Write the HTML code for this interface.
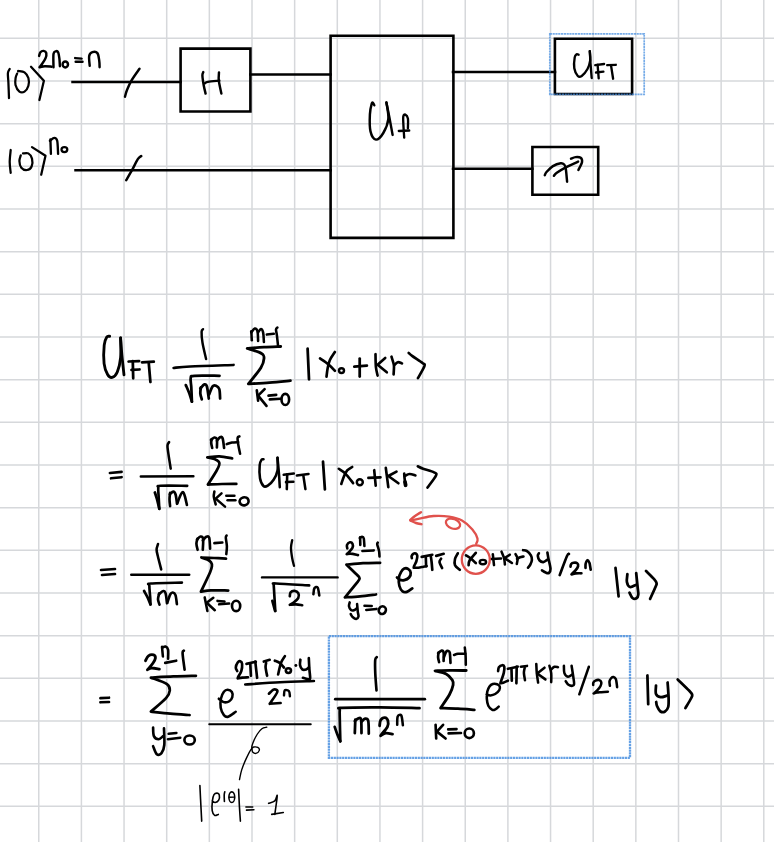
<!DOCTYPE html>
<html><head><meta charset="utf-8"><title>notes</title>
<style>
html,body{margin:0;padding:0;background:#fff;}
body{width:774px;height:842px;overflow:hidden;font-family:"Liberation Sans",sans-serif;}
svg{display:block;}
</style></head><body>
<svg width="774" height="842" viewBox="0 0 774 842">
<rect width="774" height="842" fill="#fff"/>
<g stroke="#d6d8db" stroke-width="1.5">
<line x1="38.75" y1="0" x2="38.75" y2="842"/>
<line x1="81.40" y1="0" x2="81.40" y2="842"/>
<line x1="124.05" y1="0" x2="124.05" y2="842"/>
<line x1="166.70" y1="0" x2="166.70" y2="842"/>
<line x1="209.35" y1="0" x2="209.35" y2="842"/>
<line x1="252.00" y1="0" x2="252.00" y2="842"/>
<line x1="294.65" y1="0" x2="294.65" y2="842"/>
<line x1="337.30" y1="0" x2="337.30" y2="842"/>
<line x1="379.95" y1="0" x2="379.95" y2="842"/>
<line x1="422.60" y1="0" x2="422.60" y2="842"/>
<line x1="465.25" y1="0" x2="465.25" y2="842"/>
<line x1="507.90" y1="0" x2="507.90" y2="842"/>
<line x1="550.55" y1="0" x2="550.55" y2="842"/>
<line x1="593.20" y1="0" x2="593.20" y2="842"/>
<line x1="635.85" y1="0" x2="635.85" y2="842"/>
<line x1="678.50" y1="0" x2="678.50" y2="842"/>
<line x1="721.15" y1="0" x2="721.15" y2="842"/>
<line x1="763.80" y1="0" x2="763.80" y2="842"/>
<line x1="0" y1="38.30" x2="774" y2="38.30"/>
<line x1="0" y1="80.97" x2="774" y2="80.97"/>
<line x1="0" y1="123.64" x2="774" y2="123.64"/>
<line x1="0" y1="166.31" x2="774" y2="166.31"/>
<line x1="0" y1="208.98" x2="774" y2="208.98"/>
<line x1="0" y1="251.65" x2="774" y2="251.65"/>
<line x1="0" y1="294.32" x2="774" y2="294.32"/>
<line x1="0" y1="336.99" x2="774" y2="336.99"/>
<line x1="0" y1="379.66" x2="774" y2="379.66"/>
<line x1="0" y1="422.33" x2="774" y2="422.33"/>
<line x1="0" y1="465.00" x2="774" y2="465.00"/>
<line x1="0" y1="507.67" x2="774" y2="507.67"/>
<line x1="0" y1="550.34" x2="774" y2="550.34"/>
<line x1="0" y1="593.01" x2="774" y2="593.01"/>
<line x1="0" y1="635.68" x2="774" y2="635.68"/>
<line x1="0" y1="678.35" x2="774" y2="678.35"/>
<line x1="0" y1="721.02" x2="774" y2="721.02"/>
<line x1="0" y1="763.69" x2="774" y2="763.69"/>
<line x1="0" y1="806.36" x2="774" y2="806.36"/>
</g>
<g fill="none" stroke-linecap="round" stroke-linejoin="round">
<path d="M9.70,69.00C9.40,69.67 8.12,70.73 7.90,73.00C7.68,75.27 8.22,78.42 8.40,82.60C8.58,86.78 8.90,95.52 9.00,98.10" stroke="#000000" stroke-width="2.25"/>
<path d="M17.10,73.60C16.85,74.33 15.87,76.10 15.60,78.00C15.33,79.90 14.87,82.73 15.50,85.00C16.13,87.27 17.90,90.50 19.40,91.60C20.90,92.70 23.00,92.57 24.50,91.60C26.00,90.63 27.75,88.07 28.40,85.80C29.05,83.53 29.05,80.25 28.40,78.00C27.75,75.75 26.12,73.47 24.50,72.30C22.88,71.13 19.77,71.17 18.70,71.00C17.63,70.83 18.20,71.25 18.10,71.30" stroke="#000000" stroke-width="2.25"/>
<path d="M31.00,66.80L43.90,80.70L39.40,100.00" stroke="#000000" stroke-width="2.25"/>
<path d="M39.10,55.90C39.32,55.28 39.65,53.03 40.40,52.20C41.15,51.37 42.62,50.75 43.60,50.90C44.58,51.05 46.00,51.82 46.30,53.10C46.60,54.38 46.23,56.63 45.40,58.60C44.57,60.57 42.28,63.47 41.30,64.90C40.32,66.33 39.80,66.82 39.50,67.20C40.40,67.03 42.87,66.28 44.90,66.20C46.93,66.12 50.57,66.62 51.70,66.70" stroke="#000000" stroke-width="2.45"/>
<path d="M53.50,67.20C53.50,65.00 53.12,56.65 53.50,54.00C53.88,51.35 55.03,51.60 55.80,51.30C56.57,51.00 57.50,50.98 58.10,52.20C58.70,53.42 59.10,56.27 59.40,58.60C59.70,60.93 59.82,64.93 59.90,66.20" stroke="#000000" stroke-width="2.45"/>
<ellipse cx="65.3" cy="64.4" rx="2.7" ry="3.0" transform="rotate(0 65.3 64.4)" stroke="#000000" stroke-width="2.45"/>
<path d="M75.20,58.10L81.60,58.60" stroke="#000000" stroke-width="2.45"/>
<path d="M75.70,61.70L82.50,61.70" stroke="#000000" stroke-width="2.45"/>
<path d="M89.70,65.80C89.62,64.15 88.75,58.17 89.20,55.90C89.65,53.63 91.03,52.67 92.40,52.20C93.77,51.73 96.27,51.73 97.40,53.10C98.53,54.47 98.83,58.05 99.20,60.40C99.57,62.75 99.53,66.07 99.60,67.20" stroke="#000000" stroke-width="2.45"/>
<path d="M72.5,82.0 L180.6,82.0" stroke="#000000" stroke-width="2.5" stroke-linejoin="miter" stroke-linecap="square"/>
<path d="M125.00,96.70C125.33,95.58 125.88,92.75 127.00,90.00C128.12,87.25 129.62,83.73 131.70,80.20C133.78,76.67 138.20,70.70 139.50,68.80" stroke="#000000" stroke-width="2.45"/>
<path d="M180.6,48.6 L250.4,48.6 L250.4,111.5 L180.6,111.5 L180.6,48.6" stroke="#000000" stroke-width="2.6" stroke-linejoin="miter" stroke-linecap="square"/>
<path d="M203.30,72.10C203.15,72.67 202.32,73.22 202.40,75.50C202.48,77.78 203.27,82.78 203.80,85.80C204.33,88.82 205.30,92.30 205.60,93.60" stroke="#000000" stroke-width="2.45"/>
<path d="M219.00,72.40C218.97,73.78 218.40,77.17 218.80,80.70C219.20,84.23 220.97,91.45 221.40,93.60" stroke="#000000" stroke-width="2.45"/>
<path d="M204.80,83.30C205.32,83.07 205.48,82.35 207.90,81.90C210.32,81.45 217.40,80.82 219.30,80.60" stroke="#000000" stroke-width="2.45"/>
<path d="M250.4,74.4 L330.6,74.4" stroke="#000000" stroke-width="2.5" stroke-linejoin="miter" stroke-linecap="square"/>
<path d="M10.70,150.00C10.53,152.02 9.70,158.30 9.70,162.10C9.70,165.90 10.53,171.02 10.70,172.80" stroke="#000000" stroke-width="2.25"/>
<path d="M20.80,155.30C20.57,156.25 19.32,158.93 19.40,161.00C19.48,163.07 20.03,166.20 21.30,167.70C22.57,169.20 25.28,170.20 27.00,170.00C28.72,169.80 30.77,168.40 31.60,166.50C32.43,164.60 32.55,160.78 32.00,158.60C31.45,156.42 29.80,154.27 28.30,153.40C26.80,152.53 23.88,153.40 23.00,153.40" stroke="#000000" stroke-width="2.25"/>
<path d="M32.00,147.10L45.50,155.80L41.20,174.70" stroke="#000000" stroke-width="2.25"/>
<path d="M50.40,139.40L50.90,153.90" stroke="#000000" stroke-width="2.35"/>
<path d="M49.90,140.80C50.63,140.32 53.08,137.90 54.30,137.90C55.52,137.90 56.57,138.13 57.20,140.80C57.83,143.47 57.95,151.72 58.10,153.90" stroke="#000000" stroke-width="2.35"/>
<ellipse cx="64.4" cy="149.5" rx="2.9" ry="2.5" transform="rotate(0 64.4 149.5)" stroke="#000000" stroke-width="2.25"/>
<path d="M75.5,170.3 L330.6,170.3" stroke="#000000" stroke-width="2.5" stroke-linejoin="miter" stroke-linecap="square"/>
<path d="M126.20,180.20C127.17,178.53 130.07,173.70 132.00,170.20C133.93,166.70 136.25,161.57 137.80,159.20C139.35,156.83 140.72,156.53 141.30,156.00" stroke="#000000" stroke-width="2.45"/>
<path d="M330.6,35.8 L453.4,35.8 L453.4,237.9 L330.6,237.9 L330.6,35.8" stroke="#000000" stroke-width="2.6" stroke-linejoin="miter" stroke-linecap="square"/>
<path d="M374.30,105.30C374.12,104.95 373.62,103.53 373.20,103.20C372.78,102.87 372.35,101.43 371.80,103.30C371.25,105.17 370.12,109.72 369.90,114.40C369.68,119.08 369.50,127.20 370.50,131.40C371.50,135.60 373.77,139.33 375.90,139.60C378.03,139.87 381.23,136.43 383.30,133.00C385.37,129.57 387.78,124.10 388.30,119.00C388.82,113.90 386.72,105.17 386.40,102.40" stroke="#000000" stroke-width="2.45"/>
<path d="M386.40,102.40C386.92,105.00 388.47,112.58 389.50,118.00C390.53,123.42 392.08,132.08 392.60,134.90" stroke="#000000" stroke-width="2.45"/>
<path d="M404.20,137.60C404.07,135.50 403.55,128.52 403.40,125.00C403.25,121.48 402.98,118.23 403.30,116.50C403.62,114.77 404.53,114.27 405.30,114.60C406.07,114.93 407.47,116.22 407.90,118.50C408.33,120.78 407.90,126.67 407.90,128.30" stroke="#000000" stroke-width="2.35"/>
<path d="M398.80,131.00L409.20,130.50" stroke="#000000" stroke-width="2.35"/>
<path d="M453.0,72.0 L555.0,72.0" stroke="#000000" stroke-width="2.5" stroke-linejoin="miter" stroke-linecap="square"/>
<path d="M453.0,168.8 L532.4,168.8" stroke="#000000" stroke-width="2.5" stroke-linejoin="miter" stroke-linecap="square"/>
<path d="M554.9,38.8 L632.1,38.8 L632.1,94.0 L554.9,94.0 L554.9,38.8" stroke="#000000" stroke-width="2.6" stroke-linejoin="miter" stroke-linecap="square"/>
<path d="M578.60,54.70C578.27,54.63 577.25,53.85 576.60,54.30C575.95,54.75 575.08,55.07 574.70,57.40C574.32,59.73 573.78,65.20 574.30,68.30C574.82,71.40 576.57,74.72 577.80,76.00C579.03,77.28 580.08,77.17 581.70,76.00C583.32,74.83 586.08,71.58 587.50,69.00C588.92,66.42 589.82,63.47 590.20,60.50C590.58,57.53 589.87,52.75 589.80,51.20" stroke="#000000" stroke-width="2.35"/>
<path d="M589.80,51.20C589.93,53.40 590.28,59.93 590.60,64.40C590.92,68.87 591.52,75.73 591.70,78.00" stroke="#000000" stroke-width="2.35"/>
<path d="M597.60,64.80L598.70,78.30" stroke="#000000" stroke-width="2.35"/>
<path d="M595.20,65.20L604.10,64.00" stroke="#000000" stroke-width="2.35"/>
<path d="M596.00,72.50L603.40,71.70" stroke="#000000" stroke-width="2.35"/>
<path d="M607.20,65.20L615.80,64.80" stroke="#000000" stroke-width="2.35"/>
<path d="M611.10,65.90L613.10,78.70" stroke="#000000" stroke-width="2.35"/>
<path d="M532.4,147.0 L598.2,147.0 L598.2,194.8 L532.4,194.8 L532.4,147.0" stroke="#000000" stroke-width="2.6" stroke-linejoin="miter" stroke-linecap="square"/>
<path d="M544.80,175.20C545.08,174.67 545.15,173.52 546.50,172.00C547.85,170.48 550.53,167.57 552.90,166.10C555.27,164.63 558.82,163.47 560.70,163.20C562.58,162.93 563.35,163.58 564.20,164.50C565.05,165.42 565.32,165.83 565.80,168.70C566.28,171.57 566.88,179.53 567.10,181.70" stroke="#000000" stroke-width="2.45"/>
<path d="M553.90,175.80C554.38,175.30 554.82,174.20 556.80,172.80C558.78,171.40 562.25,169.27 565.80,167.40C569.35,165.53 576.05,162.57 578.10,161.60" stroke="#000000" stroke-width="2.45"/>
<path d="M571.00,158.70C571.75,158.43 573.88,157.25 575.50,157.10C577.12,156.95 579.62,156.93 580.70,157.80C581.78,158.67 582.38,160.27 582.00,162.30C581.62,164.33 579.00,168.72 578.40,170.00" stroke="#000000" stroke-width="2.45"/>
<path d="M109.70,336.30C109.22,336.43 107.72,335.63 106.80,337.10C105.88,338.57 104.65,340.68 104.20,345.10C103.75,349.52 103.53,358.70 104.10,363.60C104.67,368.50 106.25,372.20 107.60,374.50C108.95,376.80 110.58,377.82 112.20,377.40C113.82,376.98 115.90,375.28 117.30,372.00C118.70,368.72 120.05,363.37 120.60,357.70C121.15,352.03 120.60,341.28 120.60,338.00" stroke="#000000" stroke-width="2.85"/>
<path d="M120.60,338.00C120.82,340.87 121.33,349.05 121.90,355.20C122.47,361.35 123.65,371.62 124.00,374.90" stroke="#000000" stroke-width="2.85"/>
<path d="M132.80,361.10L133.20,378.30" stroke="#000000" stroke-width="2.75"/>
<path d="M128.60,361.50L139.10,361.10" stroke="#000000" stroke-width="2.75"/>
<path d="M131.50,369.90L139.50,369.50" stroke="#000000" stroke-width="2.75"/>
<path d="M142.00,362.30L153.80,361.70" stroke="#000000" stroke-width="2.75"/>
<path d="M148.70,362.30L150.40,382.00" stroke="#000000" stroke-width="2.75"/>
<path d="M203.00,329.20C202.77,329.65 201.68,329.63 201.60,331.90C201.52,334.17 201.75,338.27 202.50,342.80C203.25,347.33 205.50,356.38 206.10,359.10" stroke="#000000" stroke-width="2.45"/>
<path d="M173.50,367.90C176.28,367.65 180.18,366.90 190.20,366.40C200.22,365.90 226.37,365.15 233.60,364.90" stroke="#000000" stroke-width="2.55"/>
<path d="M185.80,385.10C186.38,386.47 188.28,390.53 189.30,393.30C190.32,396.07 191.47,400.30 191.90,401.70" stroke="#000000" stroke-width="2.75"/>
<path d="M191.90,401.70C191.80,399.32 191.50,391.35 191.30,387.40C191.10,383.45 190.17,379.93 190.70,378.00C191.23,376.07 189.70,376.17 194.50,375.80C199.30,375.43 215.33,375.80 219.50,375.80" stroke="#000000" stroke-width="2.75"/>
<path d="M200.90,387.40C200.80,388.38 200.15,391.30 200.30,393.30C200.45,395.30 201.55,398.38 201.80,399.40" stroke="#000000" stroke-width="2.75"/>
<path d="M200.30,388.50C200.98,387.82 203.30,384.73 204.40,384.40C205.50,384.07 206.17,384.15 206.90,386.50C207.63,388.85 208.48,396.50 208.80,398.50" stroke="#000000" stroke-width="2.75"/>
<path d="M209.10,394.40C209.68,393.05 211.45,387.75 212.60,386.30C213.75,384.85 214.88,385.22 216.00,385.70C217.12,386.18 218.62,387.07 219.30,389.20C219.98,391.33 219.97,396.95 220.10,398.50" stroke="#000000" stroke-width="2.75"/>
<path d="M280.70,346.50C277.91,346.61 269.53,346.83 263.95,347.15C258.37,347.47 249.99,348.19 247.20,348.40C249.58,349.24 258.68,351.77 261.48,353.45C264.28,355.13 264.10,356.13 264.00,358.50C263.90,360.87 263.48,363.41 260.88,367.64C258.28,371.88 250.48,381.19 248.40,383.90C251.90,383.68 262.40,383.13 269.40,382.60C276.40,382.07 286.90,381.02 290.40,380.70" stroke="#000000" stroke-width="2.85"/>
<path d="M251.30,331.30L251.80,340.30" stroke="#000000" stroke-width="2.55"/>
<path d="M251.30,332.40C251.87,331.75 253.67,328.68 254.70,328.50C255.73,328.32 256.93,329.23 257.50,331.30C258.07,333.37 258.00,339.30 258.10,340.90" stroke="#000000" stroke-width="2.55"/>
<path d="M258.10,332.40C258.57,331.83 260.07,329.00 260.90,329.00C261.73,329.00 262.60,330.23 263.10,332.40C263.60,334.57 263.77,340.40 263.90,342.00" stroke="#000000" stroke-width="2.55"/>
<path d="M266.80,334.60L273.80,333.80" stroke="#000000" stroke-width="2.55"/>
<path d="M277.40,327.50C277.17,327.83 276.08,328.20 276.00,329.50C275.92,330.80 276.57,332.67 276.90,335.30C277.23,337.93 277.82,343.63 278.00,345.30" stroke="#000000" stroke-width="2.55"/>
<path d="M256.80,390.40L258.10,400.70" stroke="#000000" stroke-width="2.65"/>
<path d="M264.60,389.10L258.10,395.60L266.50,405.90" stroke="#000000" stroke-width="2.65"/>
<path d="M268.50,395.60L276.20,394.90" stroke="#000000" stroke-width="2.65"/>
<path d="M269.80,399.40L280.70,398.80" stroke="#000000" stroke-width="2.65"/>
<ellipse cx="285.3" cy="399.4" rx="3.8" ry="5.6" transform="rotate(0 285.3 399.4)" stroke="#000000" stroke-width="2.65"/>
<path d="M307.60,348.60L309.00,379.30" stroke="#000000" stroke-width="2.75"/>
<path d="M320.00,358.40C321.43,359.42 326.12,362.43 328.60,364.50C331.08,366.57 333.85,369.75 334.90,370.80" stroke="#000000" stroke-width="2.65"/>
<path d="M334.90,352.00C334.07,353.33 331.10,357.32 329.90,360.00C328.70,362.68 328.27,365.32 327.70,368.10C327.13,370.88 326.70,375.27 326.50,376.70" stroke="#000000" stroke-width="2.65"/>
<ellipse cx="341.5" cy="370.6" rx="2.5" ry="2.4" transform="rotate(0 341.5 370.6)" stroke="#000000" stroke-width="2.45"/>
<path d="M354.30,366.70L366.90,365.70" stroke="#000000" stroke-width="2.75"/>
<path d="M359.70,358.50L359.70,376.60" stroke="#000000" stroke-width="2.75"/>
<path d="M375.50,354.20C375.57,356.30 375.55,363.23 375.90,366.80C376.25,370.37 377.32,374.13 377.60,375.60" stroke="#000000" stroke-width="2.65"/>
<path d="M385.20,358.00L377.60,364.70L386.80,372.30" stroke="#000000" stroke-width="2.65"/>
<path d="M391.50,356.70C391.82,357.75 392.98,361.32 393.40,363.00C393.82,364.68 393.97,364.90 394.00,366.80C394.03,368.70 393.67,373.13 393.60,374.40" stroke="#000000" stroke-width="2.65"/>
<path d="M394.40,365.10C394.97,364.62 396.53,362.48 397.80,362.20C399.07,361.92 401.30,363.20 402.00,363.40" stroke="#000000" stroke-width="2.65"/>
<path d="M408.70,352.90C409.27,353.40 409.80,354.22 412.10,355.90C414.40,357.58 420.43,361.35 422.50,363.00C424.57,364.65 425.27,363.27 424.50,365.80C423.73,368.33 419.00,376.13 417.90,378.20" stroke="#000000" stroke-width="2.65"/>
<path d="M109.90,473.00L121.60,471.90" stroke="#000000" stroke-width="2.65"/>
<path d="M111.00,478.30L121.60,477.20" stroke="#000000" stroke-width="2.65"/>
<path d="M169.10,442.10C168.83,442.63 167.67,443.68 167.50,445.30C167.33,446.92 167.57,447.92 168.10,451.80C168.63,455.68 170.27,465.80 170.70,468.60" stroke="#000000" stroke-width="2.55"/>
<path d="M140.80,476.40L193.40,476.20" stroke="#000000" stroke-width="2.45"/>
<path d="M154.90,492.50C155.25,493.62 156.27,496.48 157.00,499.20C157.73,501.92 158.92,507.20 159.30,508.80" stroke="#000000" stroke-width="2.75"/>
<path d="M159.30,508.80C159.20,506.90 158.87,500.87 158.70,497.40C158.53,493.93 158.00,489.93 158.30,488.00C158.60,486.07 155.68,486.17 160.50,485.80C165.32,485.43 182.75,485.80 187.20,485.80" stroke="#000000" stroke-width="2.65"/>
<path d="M170.10,492.80C170.00,493.87 169.50,496.97 169.50,499.20C169.50,501.43 170.00,505.03 170.10,506.20" stroke="#000000" stroke-width="2.65"/>
<path d="M169.80,494.30C170.38,493.85 172.33,491.57 173.30,491.60C174.27,491.63 174.98,492.47 175.60,494.50C176.22,496.53 176.77,502.25 177.00,503.80" stroke="#000000" stroke-width="2.65"/>
<path d="M177.30,503.30C177.88,501.83 179.83,496.35 180.80,494.50C181.77,492.65 182.42,491.90 183.10,492.20C183.78,492.50 184.27,494.17 184.90,496.30C185.53,498.43 186.57,503.55 186.90,505.00" stroke="#000000" stroke-width="2.65"/>
<path d="M232.10,458.40C230.00,458.05 223.63,456.47 219.50,456.30C215.37,456.13 209.33,457.22 207.30,457.40C208.48,457.67 212.47,458.27 214.40,459.00C216.33,459.73 218.10,460.80 218.90,461.80C219.70,462.80 219.63,463.42 219.20,465.00C218.77,466.58 218.18,468.03 216.30,471.30C214.42,474.57 209.30,482.38 207.90,484.60C210.25,484.50 217.27,484.12 222.00,484.00C226.73,483.88 233.92,483.92 236.30,483.90" stroke="#000000" stroke-width="2.75"/>
<path d="M211.70,439.20C211.62,439.82 211.12,441.43 211.20,442.90C211.28,444.37 212.03,447.15 212.20,448.00" stroke="#000000" stroke-width="2.65"/>
<path d="M210.90,440.00C211.47,439.58 213.30,437.63 214.30,437.50C215.30,437.37 216.47,437.53 216.90,439.20C217.33,440.87 216.90,446.12 216.90,447.50" stroke="#000000" stroke-width="2.65"/>
<path d="M216.90,440.80C217.42,440.22 219.05,437.73 220.00,437.30C220.95,436.87 221.92,436.42 222.60,438.20C223.28,439.98 223.85,446.37 224.10,448.00" stroke="#000000" stroke-width="2.65"/>
<path d="M226.70,444.10C227.57,443.83 230.00,442.83 231.90,442.50C233.80,442.17 237.07,442.17 238.10,442.10" stroke="#000000" stroke-width="2.55"/>
<path d="M239.40,436.40C239.10,436.65 237.78,436.48 237.60,437.90C237.42,439.32 237.88,442.27 238.30,444.90C238.72,447.53 239.80,452.23 240.10,453.70" stroke="#000000" stroke-width="2.55"/>
<path d="M214.40,491.50C214.30,492.35 213.58,494.45 213.80,496.60C214.02,498.75 215.38,503.10 215.70,504.40" stroke="#000000" stroke-width="2.55"/>
<path d="M221.50,493.40L215.70,498.60L225.00,506.60" stroke="#000000" stroke-width="2.55"/>
<path d="M226.30,495.70L234.40,495.70" stroke="#000000" stroke-width="2.55"/>
<path d="M227.60,500.20L235.40,500.20" stroke="#000000" stroke-width="2.55"/>
<ellipse cx="244.1" cy="501.3" rx="4.5" ry="4.0" transform="rotate(-15 244.1 501.3)" stroke="#000000" stroke-width="2.65"/>
<path d="M263.50,459.30C263.18,459.37 262.23,458.73 261.60,459.70C260.97,460.67 259.97,462.00 259.70,465.10C259.43,468.20 259.37,474.82 260.00,478.30C260.63,481.78 262.20,484.78 263.50,486.00C264.80,487.22 266.12,486.63 267.80,485.60C269.48,484.57 271.98,482.32 273.60,479.80C275.22,477.28 276.85,474.18 277.50,470.50C278.15,466.82 277.50,459.83 277.50,457.70" stroke="#000000" stroke-width="2.55"/>
<path d="M277.50,457.70C277.75,460.48 278.62,469.48 279.00,474.40C279.38,479.32 279.67,485.07 279.80,487.20" stroke="#000000" stroke-width="2.55"/>
<path d="M287.20,474.40L286.80,489.10" stroke="#000000" stroke-width="2.55"/>
<path d="M283.70,474.80L293.80,473.60" stroke="#000000" stroke-width="2.55"/>
<path d="M286.00,482.10L293.40,481.70" stroke="#000000" stroke-width="2.55"/>
<path d="M296.90,475.50L308.50,474.00" stroke="#000000" stroke-width="2.55"/>
<path d="M303.40,475.90L305.40,489.10" stroke="#000000" stroke-width="2.55"/>
<path d="M323.00,461.60L324.90,489.40" stroke="#000000" stroke-width="2.75"/>
<path d="M338.80,468.80C339.90,469.60 343.02,471.22 345.40,473.60C347.78,475.98 351.82,481.52 353.10,483.10" stroke="#000000" stroke-width="2.65"/>
<path d="M352.20,467.00C351.37,467.57 348.57,468.85 347.20,470.40C345.83,471.95 344.98,474.03 344.00,476.30C343.02,478.57 341.75,482.72 341.30,484.00" stroke="#000000" stroke-width="2.65"/>
<ellipse cx="359.8" cy="482.2" rx="3.0" ry="3.0" transform="rotate(0 359.8 482.2)" stroke="#000000" stroke-width="2.45"/>
<path d="M368.40,477.90L380.50,477.40" stroke="#000000" stroke-width="2.65"/>
<path d="M374.20,470.20L375.70,485.70" stroke="#000000" stroke-width="2.65"/>
<path d="M385.80,467.80C386.05,469.73 386.88,476.18 387.30,479.40C387.72,482.62 388.13,485.82 388.30,487.10" stroke="#000000" stroke-width="2.65"/>
<path d="M396.50,471.60L388.30,476.00L398.40,483.30" stroke="#000000" stroke-width="2.65"/>
<path d="M404.20,473.60C404.28,474.57 404.45,477.38 404.70,479.40C404.95,481.42 405.53,484.65 405.70,485.70" stroke="#000000" stroke-width="2.65"/>
<path d="M405.00,482.00L405.60,485.20" stroke="#000000" stroke-width="3.85"/>
<path d="M404.70,476.00C405.52,475.67 407.82,474.08 409.60,474.00C411.38,473.92 414.43,475.25 415.40,475.50" stroke="#000000" stroke-width="2.65"/>
<path d="M417.80,466.30C418.68,466.70 420.40,467.70 423.10,468.70C425.80,469.70 431.85,471.17 434.00,472.30C436.15,473.43 437.08,472.95 436.00,475.50C434.92,478.05 428.92,485.58 427.50,487.60" stroke="#000000" stroke-width="2.65"/>
<path d="M101.00,570.00L115.00,569.00" stroke="#000000" stroke-width="2.65"/>
<path d="M102.00,575.00L115.00,574.00" stroke="#000000" stroke-width="2.65"/>
<path d="M158.00,544.00C157.77,544.92 156.63,547.50 156.60,549.50C156.57,551.50 157.03,552.68 157.80,556.00C158.57,559.32 160.63,567.17 161.20,569.40" stroke="#000000" stroke-width="2.55"/>
<path d="M131.30,574.80L189.20,574.80" stroke="#000000" stroke-width="2.55"/>
<path d="M144.10,591.00C144.68,592.07 146.53,595.17 147.60,597.40C148.67,599.63 150.02,603.23 150.50,604.40" stroke="#000000" stroke-width="2.75"/>
<path d="M150.50,604.40C150.45,603.23 150.38,600.47 150.20,597.40C150.02,594.33 149.27,588.32 149.40,586.00C149.53,583.68 145.58,584.07 151.00,583.50C156.42,582.93 176.75,582.75 181.90,582.60" stroke="#000000" stroke-width="2.65"/>
<path d="M159.20,593.40C159.00,594.37 157.95,597.32 158.00,599.20C158.05,601.08 159.25,603.78 159.50,604.70" stroke="#000000" stroke-width="2.65"/>
<path d="M158.90,594.30C159.63,593.75 162.18,591.15 163.30,591.00C164.42,590.85 164.98,591.35 165.60,593.40C166.22,595.45 166.77,601.65 167.00,603.30" stroke="#000000" stroke-width="2.65"/>
<path d="M167.30,602.70C167.78,601.33 169.28,596.20 170.20,594.50C171.12,592.80 171.92,592.40 172.80,592.50C173.68,592.60 174.82,593.17 175.50,595.10C176.18,597.03 176.67,602.60 176.90,604.10" stroke="#000000" stroke-width="2.65"/>
<path d="M226.00,558.60C224.00,558.50 218.10,558.18 214.00,558.00C209.90,557.82 203.50,557.58 201.40,557.50C202.38,557.85 205.70,558.80 207.30,559.60C208.90,560.40 210.23,561.23 211.00,562.30C211.77,563.37 212.07,564.30 211.90,566.00C211.73,567.70 211.83,568.22 210.00,572.50C208.17,576.78 202.42,588.50 200.90,591.70C202.58,591.47 206.45,590.48 211.00,590.30C215.55,590.12 225.33,590.55 228.20,590.60" stroke="#000000" stroke-width="2.75"/>
<path d="M197.60,538.70C197.40,539.48 196.40,541.55 196.40,543.40C196.40,545.25 197.40,548.73 197.60,549.80" stroke="#000000" stroke-width="2.65"/>
<path d="M197.00,539.50C197.58,539.00 199.48,536.63 200.50,536.50C201.52,536.37 202.72,536.48 203.10,538.70C203.48,540.92 202.85,547.95 202.80,549.80" stroke="#000000" stroke-width="2.65"/>
<path d="M202.80,540.50C203.38,539.88 205.23,537.28 206.30,536.80C207.37,536.32 208.57,535.63 209.20,537.60C209.83,539.57 209.95,546.77 210.10,548.60" stroke="#000000" stroke-width="2.65"/>
<path d="M214.40,543.10L222.30,542.50" stroke="#000000" stroke-width="2.65"/>
<path d="M226.60,535.50C226.47,535.85 225.75,535.80 225.80,537.60C225.85,539.40 226.82,543.55 226.90,546.30C226.98,549.05 226.40,552.80 226.30,554.10" stroke="#000000" stroke-width="2.55"/>
<path d="M204.70,597.40L207.40,610.90" stroke="#000000" stroke-width="2.55"/>
<path d="M213.30,597.80L206.70,602.80L214.80,610.20" stroke="#000000" stroke-width="2.55"/>
<path d="M217.50,600.90L224.50,601.60" stroke="#000000" stroke-width="2.55"/>
<path d="M219.10,604.30L229.10,603.60" stroke="#000000" stroke-width="2.55"/>
<ellipse cx="236.1" cy="605.9" rx="4.1" ry="5.2" transform="rotate(0 236.1 605.9)" stroke="#000000" stroke-width="2.65"/>
<path d="M292.20,540.20C292.00,541.47 291.00,544.78 291.00,547.80C291.00,550.82 291.70,555.30 292.20,558.30C292.70,561.30 293.70,564.55 294.00,565.80" stroke="#000000" stroke-width="2.35"/>
<path d="M262.00,577.40L337.60,577.40" stroke="#000000" stroke-width="2.35"/>
<path d="M272.40,600.90L275.10,611.00" stroke="#000000" stroke-width="2.75"/>
<path d="M275.30,611.00C275.07,607.13 274.13,592.25 273.90,587.80C273.67,583.35 273.52,585.02 273.90,584.30C274.28,583.58 270.32,583.32 276.20,583.50C282.08,583.68 303.70,585.08 309.20,585.40" stroke="#000000" stroke-width="2.65"/>
<path d="M289.80,596.30C289.93,595.65 289.82,593.30 290.60,592.40C291.38,591.50 293.22,590.77 294.50,590.90C295.78,591.03 297.67,592.05 298.30,593.20C298.93,594.35 299.07,596.25 298.30,597.80C297.53,599.35 295.12,601.33 293.70,602.50C292.28,603.67 290.45,604.42 289.80,604.80C290.83,604.73 293.93,604.33 296.00,604.40C298.07,604.47 301.17,605.07 302.20,605.20" stroke="#000000" stroke-width="2.65"/>
<path d="M313.40,594.30C313.57,593.30 313.68,589.42 314.40,588.30C315.12,587.18 316.88,586.40 317.70,587.60C318.52,588.80 319.03,594.18 319.30,595.50" stroke="#000000" stroke-width="2.55"/>
<path d="M380.10,562.80C377.25,562.87 368.62,562.90 363.00,563.20C357.38,563.50 349.17,564.37 346.40,564.60C347.88,566.05 353.10,571.02 355.30,573.30C357.50,575.58 359.52,576.48 359.60,578.30C359.68,580.12 358.25,581.02 355.80,584.20C353.35,587.38 346.72,595.20 344.90,597.40C347.42,597.22 354.82,596.78 360.00,596.30C365.18,595.82 373.33,594.80 376.00,594.50" stroke="#000000" stroke-width="2.75"/>
<path d="M347.30,548.40C347.25,547.82 346.57,545.92 347.00,544.90C347.43,543.88 348.98,542.50 349.90,542.30C350.82,542.10 352.07,542.78 352.50,543.70C352.93,544.62 353.13,546.35 352.50,547.80C351.87,549.25 349.67,551.33 348.70,552.40C347.73,553.47 347.03,553.90 346.70,554.20C347.33,554.10 348.62,553.45 350.50,553.60C352.38,553.75 356.75,554.85 358.00,555.10" stroke="#000000" stroke-width="2.65"/>
<path d="M360.10,537.30L360.30,544.90" stroke="#000000" stroke-width="2.55"/>
<path d="M359.80,538.10C360.18,537.88 361.43,536.73 362.10,536.80C362.77,536.87 363.42,536.97 363.80,538.50C364.18,540.03 364.30,544.75 364.40,546.00" stroke="#000000" stroke-width="2.55"/>
<path d="M362.40,551.00L373.70,550.40" stroke="#000000" stroke-width="2.55"/>
<path d="M377.80,542.60C377.70,542.88 377.00,542.95 377.20,544.30C377.40,545.65 378.62,548.67 379.00,550.70C379.38,552.73 379.42,555.53 379.50,556.50" stroke="#000000" stroke-width="2.55"/>
<path d="M349.70,602.40C349.58,603.05 348.78,605.05 349.00,606.30C349.22,607.55 350.18,609.25 351.00,609.90C351.82,610.55 352.93,610.48 353.90,610.20C354.87,609.92 356.32,608.53 356.80,608.20" stroke="#000000" stroke-width="2.55"/>
<path d="M357.10,604.00C357.22,605.30 357.57,609.72 357.80,611.80C358.03,613.88 358.77,615.32 358.50,616.50C358.23,617.68 357.13,618.77 356.20,618.90C355.27,619.03 353.82,618.10 352.90,617.30C351.98,616.50 351.07,614.63 350.70,614.10" stroke="#000000" stroke-width="2.55"/>
<path d="M364.50,605.70L371.70,606.00" stroke="#000000" stroke-width="2.55"/>
<path d="M366.20,609.90L376.50,608.90" stroke="#000000" stroke-width="2.55"/>
<ellipse cx="382.3" cy="610.2" rx="3.5" ry="3.9" transform="rotate(25 382.3 610.2)" stroke="#000000" stroke-width="2.65"/>
<path d="M397.00,577.50C397.40,577.85 398.18,579.17 399.40,579.60C400.62,580.03 402.68,580.45 404.30,580.10C405.92,579.75 408.03,578.75 409.10,577.50C410.17,576.25 410.88,574.03 410.70,572.60C410.52,571.17 409.07,569.57 408.00,568.90C406.93,568.23 405.47,568.07 404.30,568.60C403.13,569.13 401.90,570.53 401.00,572.10C400.10,573.67 399.17,575.68 398.90,578.00C398.63,580.32 398.78,583.77 399.40,586.00C400.02,588.23 401.35,590.42 402.60,591.40C403.85,592.38 405.28,592.40 406.90,591.90C408.52,591.40 411.40,588.98 412.30,588.40" stroke="#000000" stroke-width="2.75"/>
<path d="M411.90,558.20C411.85,557.87 411.38,556.93 411.60,556.20C411.82,555.47 412.50,554.25 413.20,553.80C413.90,553.35 415.12,553.15 415.80,553.50C416.48,553.85 417.22,554.57 417.30,555.90C417.38,557.23 416.82,559.87 416.30,561.50C415.78,563.13 414.63,564.67 414.20,565.70C413.77,566.73 413.78,567.37 413.70,567.70C414.47,567.70 416.67,567.87 418.30,567.70C419.93,567.53 422.12,566.95 423.50,566.70C424.88,566.45 426.08,566.28 426.60,566.20" stroke="#000000" stroke-width="2.65"/>
<path d="M421.70,556.90L432.30,554.80" stroke="#000000" stroke-width="2.65"/>
<path d="M425.80,556.40L426.10,566.20" stroke="#000000" stroke-width="2.65"/>
<path d="M430.70,555.30C430.85,556.42 431.33,559.58 431.60,562.00C431.87,564.42 432.18,568.50 432.30,569.80" stroke="#000000" stroke-width="2.65"/>
<path d="M436.20,555.90L443.70,553.80" stroke="#000000" stroke-width="2.65"/>
<path d="M441.10,558.70C440.83,559.27 439.33,560.55 439.50,562.10C439.67,563.65 441.67,567.02 442.10,568.00" stroke="#000000" stroke-width="2.65"/>
<path d="M457.80,553.30C457.33,554.25 455.47,557.02 455.00,559.00C454.53,560.98 454.20,563.40 455.00,565.20C455.80,567.00 459.00,569.03 459.80,569.80" stroke="#000000" stroke-width="2.65"/>
<path d="M466.00,555.30C466.78,555.82 469.07,557.10 470.70,558.40C472.33,559.70 474.95,562.32 475.80,563.10" stroke="#000000" stroke-width="2.65"/>
<path d="M475.80,552.80C474.77,554.08 470.80,558.43 469.60,560.50C468.40,562.57 468.77,564.42 468.60,565.20" stroke="#000000" stroke-width="2.65"/>
<ellipse cx="482.9" cy="562.1" rx="3.2" ry="2.2" transform="rotate(0 482.9 562.1)" stroke="#000000" stroke-width="2.45"/>
<path d="M491.20,558.90L501.00,558.60" stroke="#000000" stroke-width="2.55"/>
<path d="M492.80,554.20L494.00,565.10" stroke="#000000" stroke-width="2.55"/>
<path d="M501.50,551.60C501.93,552.72 503.53,556.15 504.10,558.30C504.67,560.45 504.77,563.47 504.90,564.50" stroke="#000000" stroke-width="2.55"/>
<path d="M509.80,554.70L504.60,558.10L511.90,563.00" stroke="#000000" stroke-width="2.55"/>
<path d="M515.50,554.20C515.85,554.88 517.38,556.67 517.60,558.30C517.82,559.93 516.93,563.05 516.80,564.00" stroke="#000000" stroke-width="2.55"/>
<path d="M517.00,558.90C517.52,558.63 519.02,557.70 520.10,557.30C521.18,556.90 522.93,556.63 523.50,556.50" stroke="#000000" stroke-width="2.55"/>
<path d="M523.10,550.20C523.70,550.30 525.40,549.95 526.70,550.80C528.00,551.65 530.03,553.77 530.90,555.30C531.77,556.83 532.00,558.45 531.90,560.00C531.80,561.55 530.95,563.32 530.30,564.60C529.65,565.88 528.38,567.18 528.00,567.70" stroke="#000000" stroke-width="2.65"/>
<path d="M538.90,553.30C538.72,553.73 537.68,554.70 537.80,555.90C537.92,557.10 538.68,559.47 539.60,560.50C540.52,561.53 542.08,562.18 543.30,562.10C544.52,562.02 546.30,560.35 546.90,560.00" stroke="#000000" stroke-width="2.65"/>
<path d="M547.40,552.50C547.57,553.48 547.88,555.68 548.40,558.40C548.92,561.12 550.40,566.38 550.50,568.80C550.60,571.22 549.78,572.27 549.00,572.90C548.22,573.53 546.97,573.03 545.80,572.60C544.63,572.17 542.63,570.68 542.00,570.30" stroke="#000000" stroke-width="2.65"/>
<path d="M569.00,553.90C568.65,554.30 568.45,552.77 566.90,556.30C565.35,559.83 560.90,571.97 559.70,575.10" stroke="#000000" stroke-width="2.65"/>
<path d="M570.50,566.60C570.62,566.17 570.68,564.63 571.20,564.00C571.72,563.37 572.60,562.93 573.60,562.80C574.60,562.67 576.45,562.65 577.20,563.20C577.95,563.75 578.35,564.93 578.10,566.10C577.85,567.27 576.80,568.82 575.70,570.20C574.60,571.58 572.20,573.70 571.50,574.40C572.20,574.23 574.05,573.58 575.70,573.40C577.35,573.22 580.45,573.32 581.40,573.30" stroke="#000000" stroke-width="2.65"/>
<path d="M585.50,567.90C585.53,567.17 585.35,564.78 585.70,563.50C586.05,562.22 586.97,560.28 587.60,560.20C588.23,560.12 589.08,562.02 589.50,563.00C589.92,563.98 589.90,564.98 590.10,566.10C590.30,567.22 590.60,569.10 590.70,569.70" stroke="#000000" stroke-width="2.65"/>
<path d="M615.50,567.90L618.60,596.30" stroke="#000000" stroke-width="2.75"/>
<path d="M627.40,574.10C627.32,575.40 626.47,579.75 626.90,581.90C627.33,584.05 628.53,586.48 630.00,587.00C631.47,587.52 634.75,585.33 635.70,585.00" stroke="#000000" stroke-width="2.75"/>
<path d="M636.20,573.10C636.43,575.42 637.25,583.43 637.60,587.00C637.95,590.57 638.48,592.62 638.30,594.50C638.12,596.38 637.47,597.72 636.50,598.30C635.53,598.88 633.67,598.93 632.50,598.00C631.33,597.07 630.00,593.58 629.50,592.70" stroke="#000000" stroke-width="2.75"/>
<path d="M646.00,571.00C647.38,572.38 652.53,577.27 654.30,579.30C656.07,581.33 656.38,581.95 656.60,583.20C656.82,584.45 656.68,584.18 655.60,586.80C654.52,589.42 651.02,596.88 650.10,598.90" stroke="#000000" stroke-width="2.75"/>
<ellipse cx="475.8" cy="559.6" rx="14.0" ry="14.2" transform="rotate(0 475.8 559.6)" stroke="#e0514c" stroke-width="2.3"/>
<path d="M476.20,543.80C476.42,542.93 478.13,540.98 477.50,538.60C476.87,536.22 474.98,532.52 472.40,529.50C469.82,526.48 465.88,522.65 462.00,520.50C458.12,518.35 453.83,517.35 449.10,516.60C444.37,515.85 438.55,515.67 433.60,516.00C428.65,516.33 423.17,517.85 419.40,518.60C415.63,519.35 412.40,520.18 411.00,520.50" stroke="#e0514c" stroke-width="2.3"/>
<ellipse cx="453" cy="523.7" rx="7.4" ry="4.8" transform="rotate(20 453 523.7)" stroke="#e0514c" stroke-width="2.3"/>
<path d="M410.30,519.90C411.08,519.25 413.22,517.28 415.00,516.00C416.78,514.72 420.00,512.83 421.00,512.20" stroke="#e0514c" stroke-width="2.4"/>
<path d="M410.30,520.50C411.25,520.92 414.13,522.38 416.00,523.00C417.87,523.62 420.58,524.00 421.50,524.20" stroke="#e0514c" stroke-width="2.4"/>
<path d="M100.40,698.10L109.00,697.70" stroke="#000000" stroke-width="2.65"/>
<path d="M100.40,702.30L109.00,702.00" stroke="#000000" stroke-width="2.65"/>
<path d="M195.90,675.80C192.15,675.90 180.90,676.10 173.40,676.40C165.90,676.70 154.65,677.40 150.90,677.60C153.58,678.67 163.81,681.90 166.97,684.05C170.12,686.20 169.96,688.16 169.80,690.50C169.64,692.84 169.17,694.58 166.02,698.10C162.87,701.61 153.42,709.35 150.90,711.60C154.12,711.93 163.80,713.03 170.25,713.60C176.70,714.17 186.38,714.77 189.60,715.00" stroke="#000000" stroke-width="2.75"/>
<path d="M145.50,660.70C146.00,659.88 147.15,656.77 148.50,655.80C149.85,654.83 152.45,654.52 153.60,654.90C154.75,655.28 155.52,656.70 155.40,658.10C155.28,659.50 154.23,661.35 152.90,663.30C151.57,665.25 148.32,668.72 147.40,669.80C148.10,669.50 149.60,668.12 151.60,668.00C153.60,667.88 158.10,668.92 159.40,669.10" stroke="#000000" stroke-width="2.85"/>
<path d="M162.00,646.80L162.90,656.50" stroke="#000000" stroke-width="2.55"/>
<path d="M162.30,647.60C162.83,647.42 164.53,646.15 165.50,646.50C166.47,646.85 167.67,647.67 168.10,649.70C168.53,651.73 168.10,657.20 168.10,658.70" stroke="#000000" stroke-width="2.55"/>
<path d="M165.20,662.90L176.20,660.70" stroke="#000000" stroke-width="2.65"/>
<path d="M183.90,650.70C183.68,651.17 182.48,650.33 182.60,653.50C182.72,656.67 184.27,667.00 184.60,669.70" stroke="#000000" stroke-width="2.65"/>
<path d="M153.10,727.60C153.23,729.02 152.98,734.17 153.90,736.10C154.82,738.03 157.05,739.20 158.60,739.20C160.15,739.20 162.43,736.62 163.20,736.10" stroke="#000000" stroke-width="2.65"/>
<path d="M164.00,728.40C164.05,731.17 164.72,740.87 164.30,745.00C163.88,749.13 162.75,751.67 161.50,753.20C160.25,754.73 158.20,755.37 156.80,754.20C155.40,753.03 153.72,747.53 153.10,746.20" stroke="#000000" stroke-width="2.65"/>
<path d="M168.60,733.80L176.40,733.00" stroke="#000000" stroke-width="2.55"/>
<path d="M167.90,739.20L180.30,737.70" stroke="#000000" stroke-width="2.55"/>
<ellipse cx="189.6" cy="740" rx="5.2" ry="4.5" transform="rotate(0 189.6 740)" stroke="#000000" stroke-width="2.65"/>
<path d="M218.80,698.70C219.12,698.97 219.77,699.70 220.70,700.30C221.63,700.90 222.97,702.15 224.40,702.30C225.83,702.45 227.98,702.07 229.30,701.20C230.62,700.33 231.87,698.63 232.30,697.10C232.73,695.57 232.68,693.22 231.90,692.00C231.12,690.78 228.93,689.83 227.60,689.80C226.27,689.77 225.02,690.32 223.90,691.80C222.78,693.28 221.43,696.03 220.90,698.70C220.37,701.37 220.20,705.07 220.70,707.80C221.20,710.53 222.65,713.62 223.90,715.10C225.15,716.58 226.23,717.25 228.20,716.70C230.17,716.15 234.45,712.62 235.70,711.80" stroke="#000000" stroke-width="2.55"/>
<path d="M237.20,671.10C236.97,670.50 235.72,668.93 235.80,667.50C235.88,666.07 236.95,663.53 237.70,662.50C238.45,661.47 239.57,661.07 240.30,661.30C241.03,661.53 241.93,662.27 242.10,663.90C242.27,665.53 241.95,668.95 241.30,671.10C240.65,673.25 238.80,675.58 238.20,676.80C237.60,678.02 237.78,678.13 237.70,678.40C238.47,678.27 240.58,677.78 242.30,677.60C244.02,677.42 247.05,677.35 248.00,677.30" stroke="#000000" stroke-width="2.65"/>
<path d="M246.50,663.90L255.80,661.80" stroke="#000000" stroke-width="2.65"/>
<path d="M250.30,663.90L250.90,675.80" stroke="#000000" stroke-width="2.65"/>
<path d="M255.30,661.60C255.47,663.10 256.00,667.90 256.30,670.60C256.60,673.30 256.97,676.60 257.10,677.80" stroke="#000000" stroke-width="2.65"/>
<path d="M263.80,661.60L269.70,659.80" stroke="#000000" stroke-width="2.65"/>
<path d="M266.10,662.90C266.02,663.67 265.43,665.35 265.60,667.50C265.77,669.65 266.85,674.42 267.10,675.80" stroke="#000000" stroke-width="2.65"/>
<path d="M274.80,660.70C275.62,661.07 278.17,661.77 279.70,662.90C281.23,664.03 283.28,666.73 284.00,667.50" stroke="#000000" stroke-width="2.65"/>
<path d="M284.90,656.10C284.25,657.23 282.13,659.83 281.00,662.90C279.87,665.97 278.58,672.57 278.10,674.50" stroke="#000000" stroke-width="2.65"/>
<ellipse cx="288.4" cy="670.6" rx="2.6" ry="2.4" transform="rotate(0 288.4 670.6)" stroke="#000000" stroke-width="2.55"/>
<path d="M295.80,665.50l0.1,0" stroke="#000000" stroke-width="2.85"/>
<path d="M300.40,659.70C300.33,660.57 299.68,663.28 300.00,664.90C300.32,666.52 301.27,668.65 302.30,669.40C303.33,670.15 305.12,669.73 306.20,669.40C307.28,669.07 308.37,667.73 308.80,667.40" stroke="#000000" stroke-width="2.65"/>
<path d="M308.80,658.10C308.90,659.98 309.18,666.02 309.40,669.40C309.62,672.78 310.42,676.78 310.10,678.40C309.78,680.02 308.70,679.20 307.50,679.10C306.30,679.00 303.67,678.02 302.90,677.80" stroke="#000000" stroke-width="2.65"/>
<path d="M245.30,684.50C251.08,684.13 268.57,682.88 280.00,682.30C291.43,681.72 308.25,681.22 313.90,681.00" stroke="#000000" stroke-width="2.65"/>
<path d="M268.90,693.70C269.73,693.00 272.50,689.78 273.90,689.50C275.30,689.22 278.00,689.62 277.30,692.00C276.60,694.38 270.97,701.83 269.70,703.80L280.60,703.00" stroke="#000000" stroke-width="2.65"/>
<path d="M284.00,695.40C284.13,694.55 283.97,691.00 284.80,690.30C285.63,689.60 288.15,690.22 289.00,691.20C289.85,692.18 289.75,695.37 289.90,696.20" stroke="#000000" stroke-width="2.45"/>
<path d="M209.20,724.20L310.80,724.20" stroke="#000000" stroke-width="1.9"/>
<path d="M239.50,779.60C239.87,777.98 240.58,773.40 241.70,769.90C242.82,766.40 244.58,762.10 246.20,758.60C247.82,755.10 250.33,750.02 251.40,748.90C252.47,747.78 251.85,751.15 252.60,751.90C253.35,752.65 254.78,753.65 255.90,753.40C257.02,753.15 258.98,751.40 259.30,750.40C259.62,749.40 258.73,747.97 257.80,747.40C256.87,746.83 254.70,746.82 253.70,747.00C252.70,747.18 251.93,749.18 251.80,748.50C251.67,747.82 251.97,745.32 252.90,742.90C253.83,740.48 255.90,736.37 257.40,734.00C258.90,731.63 260.33,729.83 261.90,728.70C263.47,727.57 265.98,727.45 266.80,727.20" stroke="#000000" stroke-width="1.4"/>
<path d="M199.90,785.50C200.02,787.92 200.30,794.07 200.60,800.00C200.90,805.93 201.52,817.58 201.70,821.10" stroke="#000000" stroke-width="1.6"/>
<path d="M212.20,800.90C212.70,801.17 214.12,802.62 215.20,802.50C216.28,802.38 218.02,801.45 218.70,800.20C219.38,798.95 219.57,796.18 219.30,795.00C219.03,793.82 217.98,793.15 217.10,793.10C216.22,793.05 214.78,793.40 214.00,794.70C213.22,796.00 212.70,798.23 212.40,800.90C212.10,803.57 211.83,808.28 212.20,810.70C212.57,813.12 213.58,814.78 214.60,815.40C215.62,816.02 217.68,814.57 218.30,814.40" stroke="#000000" stroke-width="1.6"/>
<path d="M224.80,791.70C224.70,792.25 224.27,793.37 224.20,795.00C224.13,796.63 224.37,800.42 224.40,801.50" stroke="#000000" stroke-width="1.6"/>
<ellipse cx="231.8" cy="797.2" rx="2.9" ry="5.3" transform="rotate(0 231.8 797.2)" stroke="#000000" stroke-width="1.6"/>
<path d="M229.20,797.30L234.50,797.10" stroke="#000000" stroke-width="1.4"/>
<path d="M238.60,789.20C238.73,792.00 239.10,800.68 239.40,806.00C239.70,811.32 240.23,818.58 240.40,821.10" stroke="#000000" stroke-width="1.6"/>
<path d="M245.90,807.00L252.70,807.00" stroke="#000000" stroke-width="1.6"/>
<path d="M246.50,810.10L253.90,809.80" stroke="#000000" stroke-width="1.6"/>
<path d="M268.60,803.30C269.63,802.90 273.37,802.23 274.80,800.90C276.23,799.57 276.93,794.95 277.20,795.30C277.47,795.65 276.80,799.82 276.40,803.00C276.00,806.18 275.07,812.50 274.80,814.40" stroke="#000000" stroke-width="1.6"/>
<path d="M271.70,814.40L283.30,812.50" stroke="#000000" stroke-width="1.6"/>
<path d="M376.80,657.10C376.53,657.60 375.45,657.32 375.20,660.10C374.95,662.88 375.08,668.75 375.30,673.80C375.52,678.85 376.30,687.63 376.50,690.40" stroke="#000000" stroke-width="2.65"/>
<path d="M335.30,699.20L424.80,699.20" stroke="#000000" stroke-width="2.75"/>
<path d="M334.70,726.90C335.12,728.10 336.27,731.70 337.20,734.10C338.13,736.50 339.78,740.10 340.30,741.30" stroke="#000000" stroke-width="2.75"/>
<path d="M340.30,741.30C340.22,737.87 339.88,725.95 339.80,720.70C339.72,715.45 339.47,711.95 339.80,709.80C340.13,707.65 335.10,708.22 341.80,707.80C348.50,707.38 367.05,707.25 380.00,707.30C392.95,707.35 412.92,707.97 419.50,708.10" stroke="#000000" stroke-width="2.75"/>
<path d="M355.30,719.60L354.80,733.10" stroke="#000000" stroke-width="2.75"/>
<path d="M354.80,721.00C355.32,720.60 356.87,718.92 357.90,718.60C358.93,718.28 360.40,716.68 361.00,719.10C361.60,721.52 361.42,730.77 361.50,733.10" stroke="#000000" stroke-width="2.75"/>
<path d="M361.50,721.70C362.10,721.18 363.98,718.77 365.10,718.60C366.22,718.43 367.58,718.20 368.20,720.70C368.82,723.20 368.70,731.45 368.80,733.60" stroke="#000000" stroke-width="2.75"/>
<path d="M379.60,725.80C379.77,724.87 379.73,721.57 380.60,720.20C381.47,718.83 383.58,717.52 384.80,717.60C386.02,717.68 387.47,719.15 387.90,720.70C388.33,722.25 388.43,724.67 387.40,726.90C386.37,729.13 382.83,732.63 381.70,734.10C380.57,735.57 380.78,735.43 380.60,735.70C381.47,735.27 383.82,733.37 385.80,733.10C387.78,732.83 391.38,733.93 392.50,734.10" stroke="#000000" stroke-width="2.85"/>
<path d="M397.20,724.80C397.28,723.42 397.02,718.05 397.70,716.50C398.38,714.95 400.43,714.03 401.30,715.50C402.17,716.97 402.63,723.67 402.90,725.30" stroke="#000000" stroke-width="2.55"/>
<path d="M466.20,670.50C463.50,670.48 455.20,670.35 450.00,670.40C444.80,670.45 437.50,670.73 435.00,670.80C436.87,671.32 443.32,672.37 446.20,673.90C449.08,675.43 451.15,678.15 452.30,680.00C453.45,681.85 453.57,682.58 453.10,685.00C452.63,687.42 451.58,690.67 449.50,694.50C447.42,698.33 442.08,705.75 440.60,708.00C443.50,708.10 452.38,708.30 458.00,708.60C463.62,708.90 471.58,709.60 474.30,709.80" stroke="#000000" stroke-width="2.85"/>
<path d="M438.50,652.80C438.43,653.57 438.00,655.85 438.10,657.40C438.20,658.95 438.93,661.32 439.10,662.10" stroke="#000000" stroke-width="2.65"/>
<path d="M438.10,653.20C438.68,652.77 440.68,650.73 441.60,650.60C442.52,650.47 443.27,650.68 443.60,652.40C443.93,654.12 443.60,659.48 443.60,660.90" stroke="#000000" stroke-width="2.65"/>
<path d="M444.00,657.00C444.38,656.10 445.60,652.62 446.30,651.60C447.00,650.58 447.62,650.70 448.20,650.90C448.78,651.10 449.42,650.80 449.80,652.80C450.18,654.80 450.38,661.22 450.50,662.90" stroke="#000000" stroke-width="2.65"/>
<path d="M454.00,655.00C454.68,654.80 456.22,654.02 458.10,653.80C459.98,653.58 464.10,653.72 465.30,653.70" stroke="#000000" stroke-width="2.55"/>
<path d="M464.80,647.50C464.93,648.83 465.43,652.62 465.60,655.50C465.77,658.38 465.77,663.25 465.80,664.80" stroke="#000000" stroke-width="2.55"/>
<path d="M435.60,724.80L436.20,738.50" stroke="#000000" stroke-width="2.65"/>
<path d="M443.10,724.80L436.90,731.60L445.60,738.50" stroke="#000000" stroke-width="2.65"/>
<path d="M448.20,729.40L456.50,729.10" stroke="#000000" stroke-width="2.65"/>
<path d="M448.60,733.40L461.00,733.00" stroke="#000000" stroke-width="2.65"/>
<ellipse cx="469.3" cy="733.3" rx="4.6" ry="4.8" transform="rotate(0 469.3 733.3)" stroke="#000000" stroke-width="2.65"/>
<path d="M486.60,694.50C487.23,694.65 488.97,695.48 490.40,695.40C491.83,695.32 493.72,694.87 495.20,694.00C496.68,693.13 498.55,691.47 499.30,690.20C500.05,688.93 500.07,687.40 499.70,686.40C499.33,685.40 498.25,684.60 497.10,684.20C495.95,683.80 494.07,683.63 492.80,684.00C491.53,684.37 490.42,685.13 489.50,686.40C488.58,687.67 487.75,689.55 487.30,691.60C486.85,693.65 486.63,696.33 486.80,698.70C486.97,701.07 487.38,703.93 488.30,705.80C489.22,707.67 491.07,709.33 492.30,709.90C493.53,710.47 494.63,709.75 495.70,709.20C496.77,708.65 498.20,707.03 498.70,706.60" stroke="#000000" stroke-width="2.55"/>
<path d="M498.10,671.10C498.23,670.45 498.22,668.18 498.90,667.20C499.58,666.22 501.30,665.28 502.20,665.20C503.10,665.12 504.03,665.42 504.30,666.70C504.57,667.98 504.32,670.57 503.80,672.90C503.28,675.23 501.77,678.97 501.20,680.70C500.63,682.43 500.53,682.87 500.40,683.30C500.88,683.20 502.05,683.13 503.30,682.70C504.55,682.27 507.13,681.03 507.90,680.70" stroke="#000000" stroke-width="2.65"/>
<path d="M507.90,668.80L517.70,666.70" stroke="#000000" stroke-width="2.65"/>
<path d="M511.50,669.30L511.80,680.70" stroke="#000000" stroke-width="2.65"/>
<path d="M516.70,666.70L516.40,683.30" stroke="#000000" stroke-width="2.65"/>
<path d="M520.80,666.70L527.00,665.90" stroke="#000000" stroke-width="2.55"/>
<path d="M524.70,667.80C524.57,668.65 523.85,670.83 523.90,672.90C523.95,674.97 524.82,678.98 525.00,680.20" stroke="#000000" stroke-width="2.55"/>
<path d="M536.30,664.00C536.38,665.52 536.50,670.00 536.80,673.10C537.10,676.20 537.88,681.02 538.10,682.60" stroke="#000000" stroke-width="2.55"/>
<path d="M544.50,667.70L537.20,673.50L545.40,679.40" stroke="#000000" stroke-width="2.55"/>
<path d="M549.40,665.80C549.70,667.02 550.90,670.38 551.20,673.10C551.50,675.82 551.20,680.60 551.20,682.10" stroke="#000000" stroke-width="2.55"/>
<path d="M551.20,669.50C551.73,669.05 553.27,667.18 554.40,666.80C555.53,666.42 557.40,667.13 558.00,667.20" stroke="#000000" stroke-width="2.55"/>
<path d="M563.90,665.80C563.98,667.02 563.72,671.28 564.40,673.10C565.08,674.92 566.65,676.48 568.00,676.70C569.35,676.92 571.75,674.78 572.50,674.40" stroke="#000000" stroke-width="2.55"/>
<path d="M571.60,665.80C571.90,667.77 572.98,674.57 573.40,677.60C573.82,680.63 574.25,682.63 574.10,684.00C573.95,685.37 573.43,685.67 572.50,685.80C571.57,685.93 569.63,685.57 568.50,684.80C567.37,684.03 566.17,681.80 565.70,681.20" stroke="#000000" stroke-width="2.55"/>
<path d="M588.80,666.80L579.30,694.30" stroke="#000000" stroke-width="2.55"/>
<path d="M593.20,684.90C593.23,684.50 593.03,683.22 593.40,682.50C593.77,681.78 594.47,681.02 595.40,680.60C596.33,680.18 598.02,679.73 599.00,680.00C599.98,680.27 601.07,681.15 601.30,682.20C601.53,683.25 601.08,684.93 600.40,686.30C599.72,687.67 598.33,689.20 597.20,690.40C596.07,691.60 594.20,692.98 593.60,693.50C594.13,693.35 595.52,692.82 596.80,692.60C598.08,692.38 599.45,692.35 601.30,692.20C603.15,692.05 606.80,691.78 607.90,691.70" stroke="#000000" stroke-width="2.55"/>
<path d="M609.90,685.80C609.83,685.05 609.27,682.60 609.50,681.30C609.73,680.00 610.63,678.72 611.30,678.00C611.97,677.28 612.75,676.83 613.50,677.00C614.25,677.17 615.27,677.90 615.80,679.00C616.33,680.10 616.48,682.23 616.70,683.60C616.92,684.97 617.03,686.60 617.10,687.20" stroke="#000000" stroke-width="2.55"/>
<path d="M647.40,675.50L648.20,704.20" stroke="#000000" stroke-width="2.75"/>
<path d="M656.00,685.60C656.00,687.02 655.23,692.17 656.00,694.10C656.77,696.03 658.80,696.93 660.60,697.20C662.40,697.47 665.77,695.95 666.80,695.70" stroke="#000000" stroke-width="2.75"/>
<path d="M667.60,682.50C667.77,685.08 668.50,693.92 668.60,698.00C668.70,702.08 668.80,704.75 668.20,707.00C667.60,709.25 666.28,710.75 665.00,711.50C663.72,712.25 661.83,712.42 660.50,711.50C659.17,710.58 657.72,707.58 657.00,706.00C656.28,704.42 656.33,702.67 656.20,702.00" stroke="#000000" stroke-width="2.75"/>
<path d="M677.70,679.40C679.63,681.30 686.88,688.23 689.30,690.80C691.72,693.37 691.92,693.52 692.20,694.80C692.48,696.08 692.13,696.28 691.00,698.50C689.87,700.72 686.33,706.50 685.40,708.10" stroke="#000000" stroke-width="2.75"/>
</g>
<g fill="none" stroke="#4a90e0" stroke-dasharray="2.2 0.6">
<rect x="549.8" y="33.8" width="94.4" height="60.6" stroke-width="1.7" opacity="0.75"/>
<rect x="328.9" y="636.2" width="301.1" height="121.6" stroke-width="2.3" opacity="0.85"/>
</g>
</svg>
</body></html>
